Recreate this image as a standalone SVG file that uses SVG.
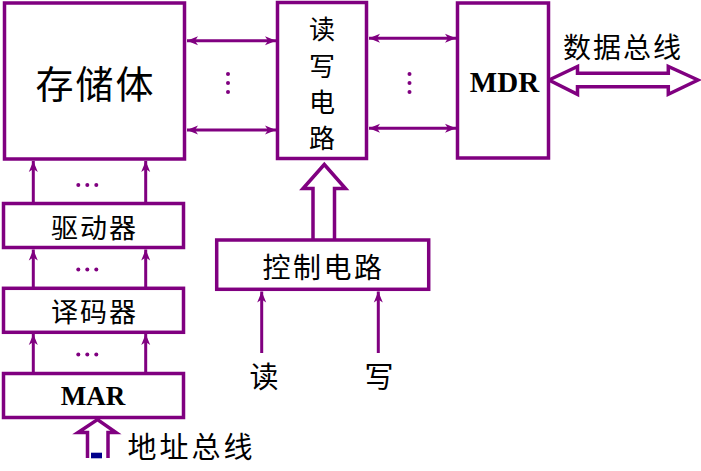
<svg xmlns="http://www.w3.org/2000/svg" width="701" height="471" viewBox="0 0 701 471">
<defs>
<style>
.box{fill:#fff;stroke:#800080;stroke-width:3.5}
.ln{stroke:#800080;stroke-width:3;fill:none}
.hol{fill:#fff;stroke:#800080;stroke-width:3.5;stroke-linejoin:miter}
.dot{fill:#800080}
.t{font-family:"Noto Sans CJK SC","Noto Sans",sans-serif;fill:#000;text-anchor:middle;dominant-baseline:central}
.b{font-family:"Liberation Serif",serif;font-weight:bold;fill:#000;text-anchor:middle}
</style>
<marker id="ah" markerUnits="userSpaceOnUse" markerWidth="12" markerHeight="10" refX="11" refY="4.5" orient="auto-start-reverse" viewBox="0 0 12 9">
<path d="M0,0 L11,4.5 L0,9 L3,4.5 z" fill="#800080"/>
</marker>
</defs>
<g id="connectors">
<line class="ln" x1="187" y1="40.7" x2="276" y2="40.7" marker-start="url(#ah)" marker-end="url(#ah)"/>
<line class="ln" x1="187" y1="130" x2="276" y2="130" marker-start="url(#ah)" marker-end="url(#ah)"/>
<line class="ln" x1="369" y1="38.3" x2="456" y2="38.3" marker-start="url(#ah)" marker-end="url(#ah)"/>
<line class="ln" x1="369" y1="128.3" x2="456" y2="128.3" marker-start="url(#ah)" marker-end="url(#ah)"/>
<circle class="dot" cx="228" cy="74" r="2"/><circle class="dot" cx="228" cy="83" r="2"/><circle class="dot" cx="228" cy="92" r="2"/>
<circle class="dot" cx="409.5" cy="74" r="2"/><circle class="dot" cx="409.5" cy="83" r="2"/><circle class="dot" cx="409.5" cy="92" r="2"/>
<line class="ln" x1="33.3" y1="202" x2="33.3" y2="161" marker-end="url(#ah)"/>
<line class="ln" x1="145.7" y1="202" x2="145.7" y2="161" marker-end="url(#ah)"/>
<circle class="dot" cx="78.3" cy="185" r="2"/><circle class="dot" cx="87.3" cy="185" r="2"/><circle class="dot" cx="96.3" cy="185" r="2"/>
<line class="ln" x1="33.3" y1="287" x2="33.3" y2="249.5" marker-end="url(#ah)"/>
<line class="ln" x1="145.7" y1="287" x2="145.7" y2="249.5" marker-end="url(#ah)"/>
<circle class="dot" cx="78.3" cy="269.5" r="2"/><circle class="dot" cx="87.3" cy="269.5" r="2"/><circle class="dot" cx="96.3" cy="269.5" r="2"/>
<line class="ln" x1="33.3" y1="372" x2="33.3" y2="334" marker-end="url(#ah)"/>
<line class="ln" x1="145.7" y1="372" x2="145.7" y2="334" marker-end="url(#ah)"/>
<circle class="dot" cx="78.3" cy="354.5" r="2"/><circle class="dot" cx="87.3" cy="354.5" r="2"/><circle class="dot" cx="96.3" cy="354.5" r="2"/>
<line class="ln" x1="261.7" y1="353" x2="261.7" y2="291.5" marker-end="url(#ah)"/>
<line class="ln" x1="378.3" y1="353" x2="378.3" y2="291.5" marker-end="url(#ah)"/>
<path class="hol" d="M313,239 L313,188.5 L303,188.5 L324.3,164.5 L345.5,188.5 L334.5,188.5 L334.5,239"/>
<path class="hol" d="M549,80 L577.5,66.5 L577.5,73.3 L668.3,73.3 L668.3,66.5 L698,80 L668.3,94.3 L668.3,86.7 L577.5,86.7 L577.5,94.3 Z"/>
<path class="hol" d="M87.5,458 L87.5,432.5 L78,432.5 L97.5,419.5 L116,432.5 L108,432.5 L108,458"/>
<rect x="91" y="452.7" width="11" height="5.6" fill="#00008b"/>
</g>
<g id="storage">
<rect class="box" x="4.5" y="3" width="180" height="156"/>
<text class="t" x="95.5" y="81.5" font-size="38" letter-spacing="2">存储体</text>
</g>
<g id="rw">
<rect class="box" x="277.5" y="2.5" width="89" height="156"/>
<text class="t" x="322" y="27" font-size="26">读</text>
<text class="t" x="322" y="64" font-size="26">写</text>
<text class="t" x="322" y="100" font-size="26">电</text>
<text class="t" x="322" y="136" font-size="26">路</text>
</g>
<g id="mdr">
<rect class="box" x="457.5" y="3" width="91" height="155"/>
<text class="b" x="504.5" y="92" font-size="29">MDR</text>
</g>
<g id="databus-label">
<text class="t" x="623" y="46" font-size="28" letter-spacing="2">数据总线</text>
</g>
<g id="driver">
<rect class="box" x="3.5" y="203.5" width="180" height="44"/>
<text class="t" x="94.5" y="226" font-size="27" letter-spacing="2">驱动器</text>
</g>
<g id="decoder">
<rect class="box" x="3.5" y="288.3" width="180" height="44"/>
<text class="t" x="94.5" y="310.5" font-size="27" letter-spacing="2">译码器</text>
</g>
<g id="mar">
<rect class="box" x="3.5" y="373.5" width="180" height="44"/>
<text class="b" x="93" y="405" font-size="27">MAR</text>
</g>
<g id="control">
<rect class="box" x="216.7" y="240" width="212" height="49.3"/>
<text class="t" x="323.5" y="265.5" font-size="28" letter-spacing="2.5">控制电路</text>
</g>
<g id="labels">
<text class="t" x="264" y="375" font-size="29">读</text>
<text class="t" x="379" y="375" font-size="29">写</text>
<text class="t" x="191.5" y="444.5" font-size="29" letter-spacing="3">地址总线</text>
</g>
</svg>
